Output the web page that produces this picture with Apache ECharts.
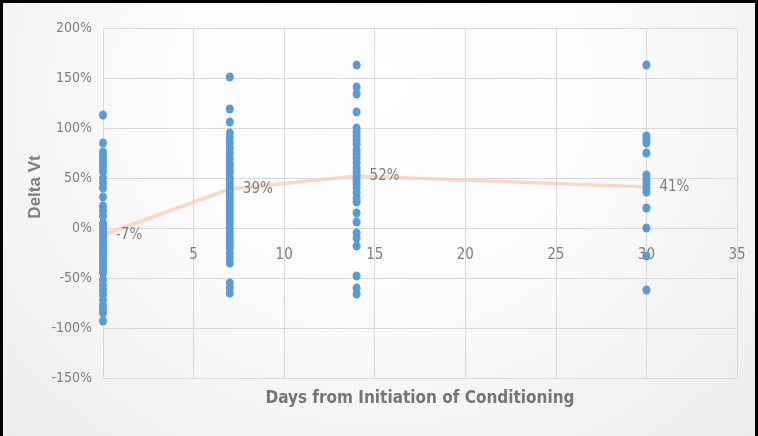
<!DOCTYPE html>
<html><head><meta charset="utf-8">
<script src="https://cdn.jsdelivr.net/npm/echarts@6/dist/echarts.min.js"></script>
<style>
html,body{margin:0;padding:0;background:#fff;}
#wrap{position:absolute;left:0;top:0;width:758px;height:436px;box-sizing:border-box;border-top:3px solid #000;border-left:3px solid #000;border-right:3px solid #000;
background:radial-gradient(ellipse at 50% 20%, #ffffff 0%, #fbfbfb 45%, #ececec 100%);}
#chart{position:absolute;left:-3px;top:-3px;width:758px;height:436px;}
</style></head>
<body><div id="wrap"><div id="chart"></div></div>
<script>
const days = [0, 7, 14, 30];
const day0 = [113, 85, 76, 72, 68, 64, 60, 56, 50, 45, 40, 31, 22, 17, 12, 5, 2, -2, -5, -8, -12, -15, -18, -22, -25, -28, -32, -35, -38, -42, -45, -52, -57, -62, -67, -72, -77, -81, -85, -93];
const day7 = [151, 119, 106, 95, 90, 85, 80, 75, 70, 65, 62, 58, 55, 50, 47, 43, 40, 36, 32, 28, 24, 20, 16, 12, 8, 4, 0, -4, -8, -12, -16, -20, -25, -30, -35, -55, -60, -65];
const day14 = [163, 141, 134, 116, 100, 96, 92, 88, 84, 78, 74, 70, 65, 60, 56, 52, 48, 44, 40, 35, 30, 26, 15, 6, -5, -10, -18, -48, -60, -66];
const day30 = [163, 92, 89, 85, 75, 53, 48, 44, 40, 36, 20, 0, -28, -62];
const means = [-7, 39, 52, 41];
const yTicks = {min: -150, max: 200, interval: 50};
const xTicks = {min: 0, max: 35, interval: 5};

const groups = [day0, day7, day14, day30];
const scatterData = [];
groups.forEach((g, i) => g.forEach(v => scatterData.push([days[i], v])));
const lineData = days.map((d, i) => [d, means[i]]);

const gridTop = 28, gridBottom = 58, H = 436;
const plotH = H - gridTop - gridBottom;
// x axis crosses at y = 0: distance from plot bottom in px
const zeroFromBottom = plotH * (0 - yTicks.min) / (yTicks.max - yTicks.min);

const font = "'Liberation Sans Narrow','DejaVu Sans Condensed','Roboto Condensed',sans-serif";
const chart = echarts.init(document.getElementById('chart'));
chart.setOption({
  backgroundColor: 'transparent',
  animation: false,
  grid: {left: 103, right: 21, top: gridTop, bottom: gridBottom},
  graphic: [{
    type: 'text', x: 35, y: 187, rotation: Math.PI / 2,
    style: {text: 'Delta Vt', fill: '#7f7f7f', fontSize: 17, fontWeight: 'bold',
      fontFamily: "'Liberation Sans','DejaVu Sans',sans-serif", align: 'center', verticalAlign: 'middle'}
  }],
  xAxis: {
    type: 'value', min: xTicks.min, max: xTicks.max, interval: xTicks.interval,
    offset: -zeroFromBottom,
    axisLine: {show: true, onZero: false, lineStyle: {color: '#d9d9d9'}},
    axisTick: {show: false},
    axisLabel: {color: '#7f7f7f', fontSize: 15, fontFamily: font, margin: 20},
    splitLine: {show: true, lineStyle: {color: '#d9d9d9', width: 1}},
    name: 'Days from Initiation of Conditioning',
    nameLocation: 'middle', nameGap: zeroFromBottom + 12,
    nameTextStyle: {color: '#767676', fontSize: 17, fontFamily: font, fontWeight: 'bold'}
  },
  yAxis: {
    type: 'value', min: yTicks.min, max: yTicks.max, interval: yTicks.interval,
    axisLine: {show: false, onZero: false}, axisTick: {show: false},
    axisLabel: {color: '#7f7f7f', fontSize: 14, fontFamily: font, margin: 11, formatter: v => v + '%'},
    splitLine: {show: true, lineStyle: {color: '#d9d9d9', width: 1}}
  },
  series: [
    {
      type: 'line', data: lineData, z: 2,
      lineStyle: {color: '#f8cbad', width: 3.5, opacity: 0.7},
      symbol: 'circle', symbolSize: 2, showSymbol: true,
      itemStyle: {color: 'rgba(0,0,0,0)', borderWidth: 0},
      label: {show: true, position: 'right', distance: 12, color: '#7f7f7f', fontSize: 15, fontFamily: font,
        formatter: p => p.value[1] + '%'},
      labelLayout: {hideOverlap: false}
    },
    {
      type: 'scatter', data: scatterData, z: 3,
      symbol: 'circle', symbolSize: [8, 9],
      itemStyle: {color: '#5b9bd5', opacity: 1}
    }
  ]
});
</script>
</body></html>
